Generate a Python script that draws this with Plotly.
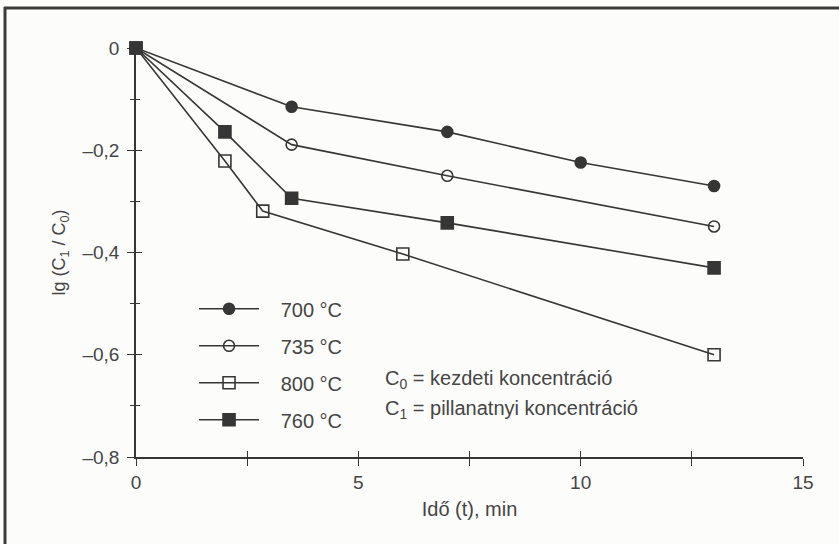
import plotly.graph_objects as go

# ---- data ----
t_700 = [0, 3.5, 7, 10, 13]
lg_700 = [0, -0.115, -0.164, -0.224, -0.270]

t_735 = [0, 3.5, 7, 13]
lg_735 = [0, -0.189, -0.250, -0.349]

t_800 = [0, 2, 2.85, 6, 13]
lg_800 = [0, -0.221, -0.319, -0.403, -0.600]

t_760 = [0, 2, 3.5, 7, 13]
lg_760 = [0, -0.164, -0.294, -0.342, -0.430]

series_names = ["700 °C", "735 °C", "800 °C", "760 °C"]

x_major = [0, 5, 10, 15]
x_labels = ["0", "5", "10", "15"]
x_minor = [2.5, 7.5, 12.5]
y_major = [0, -0.2, -0.4, -0.6, -0.8]
y_labels = ["0", "–0,2", "–0,4", "–0,6", "–0,8"]
y_minor = [-0.1, -0.3, -0.5, -0.7]

INK = "#363636"
TXT = "#454545"
FONT = "Liberation Sans, Arial, sans-serif"
W, H = 839, 544
ML, MR, MT, MB = 136, 36, 48, 87

fig = go.Figure()

styles = [
    (t_700, lg_700, "circle"),
    (t_735, lg_735, "circle-open"),
    (t_800, lg_800, "square-open"),
    (t_760, lg_760, "square"),
]
for name, (xs, ys, sym) in zip(series_names, styles):
    is_sq = sym.startswith("square")
    fig.add_trace(go.Scatter(
        x=xs, y=ys, name="\u00a0\u00a0\u00a0" + name, mode="lines+markers",
        line=dict(color=INK, width=1.6),
        marker=dict(symbol=sym, size=12 if is_sq else 11, color=INK,
                    line=dict(color=INK, width=1.6)),
        cliponaxis=False, legendgroup=name,
    ))

tick_common = dict(tickcolor=INK, tickwidth=1.3)

fig.update_layout(
    width=W, height=H,
    margin=dict(l=ML, r=MR, t=MT, b=MB, autoexpand=False),
    paper_bgcolor="#fcfcfa", plot_bgcolor="rgba(0,0,0,0)",
    font=dict(family=FONT, color=TXT, size=19),
    showlegend=True,
    legend=dict(x=0.087, y=0.41, xanchor="left", yanchor="top",
                bgcolor="rgba(0,0,0,0)", font=dict(size=20, color=TXT),
                tracegroupgap=8, itemwidth=60),
    xaxis=dict(range=[0, 15], tickvals=x_major, ticktext=x_labels,
               ticks="outside", ticklen=7, **tick_common,
               minor=dict(tickvals=x_minor, ticks="outside", ticklen=7, **tick_common),
               showline=True, linecolor=INK, linewidth=1.5, automargin=False,
               showgrid=False, zeroline=False,
               title=dict(text="Idő (t), min", standoff=10,
                          font=dict(size=20, color=TXT))),
    yaxis=dict(range=[-0.8, 0], tickvals=y_major, ticktext=y_labels,
               ticks="outside", ticklen=7, **tick_common,
               minor=dict(tickvals=y_minor, ticks="outside", ticklen=4, **tick_common),
               showline=True, linecolor=INK, linewidth=1.5, automargin=False,
               showgrid=False, zeroline=False, ticklabelstandoff=4,
               title=dict(text="lg (C<sub>1</sub> / C<sub>0</sub>)", standoff=12,
                          font=dict(size=18, color=TXT))),
    xaxis2=dict(overlaying="x", range=[0, 15], tickvals=x_major,
                showticklabels=False, ticks="inside", ticklen=6, **tick_common,
                minor=dict(tickvals=x_minor, ticks="inside", ticklen=6, **tick_common),
                showline=False, showgrid=False,
                zeroline=False, side="bottom", automargin=False),
    yaxis2=dict(overlaying="y", range=[-0.8, 0], tickvals=y_major,
                showticklabels=False, ticks="inside", ticklen=6, **tick_common,
                minor=dict(tickvals=y_minor, ticks="inside", ticklen=4, **tick_common),
                showline=False, showgrid=False,
                zeroline=False, side="left", automargin=False),
)

# invisible trace so the overlay axes are drawn
fig.add_trace(go.Scatter(x=[None], y=[None], xaxis="x2", yaxis="y2",
                         showlegend=False, hoverinfo="skip"))

fig.add_annotation(x=5.55, y=-0.649, xref="x", yref="y", xanchor="left",
                   text="C<sub>0</sub> = kezdeti koncentráció", showarrow=False,
                   font=dict(size=20, color=TXT))
fig.add_annotation(x=5.55, y=-0.708, xref="x", yref="y", xanchor="left",
                   text="C<sub>1</sub> = pillanatnyi koncentráció", showarrow=False,
                   font=dict(size=20, color=TXT))

# scanned frame border (top and left edges)
pw, ph = W - ML - MR, H - MT - MB
def px(xp):
    return (xp - ML) / pw
def py(yp):
    return (H - MB - yp) / ph
fig.add_shape(type="line", xref="paper", yref="paper",
              x0=px(4), y0=py(8), x1=px(W + 2), y1=py(8),
              line=dict(color="#3c3c3c", width=3))
fig.add_shape(type="line", xref="paper", yref="paper",
              x0=px(5), y0=py(7), x1=px(5), y1=py(H + 2),
              line=dict(color="#3c3c3c", width=3))

fig.write_html("out.html",
               config={"displayModeBar": False},
               post_script="document.body.style.margin='0';"
                           "document.body.style.overflow='hidden';")
